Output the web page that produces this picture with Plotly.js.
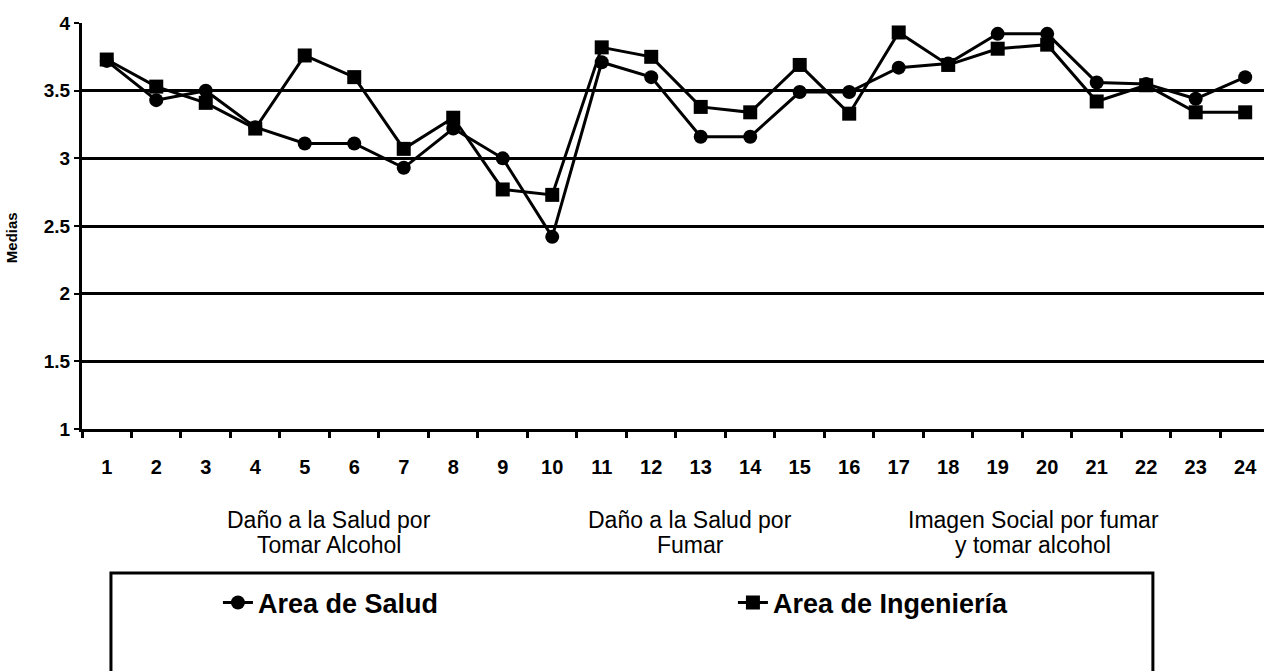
<!DOCTYPE html>
<html>
<head>
<meta charset="utf-8">
<script src="https://cdn.plot.ly/plotly-3.0.1.min.js"></script>
<style>
  html, body { margin: 0; padding: 0; background: #fff; }
  #chart { width: 1264px; height: 671px; }
</style>
</head>
<body>
<div id="chart"></div>
<script>
// items 1..24
const items = [1, 2, 3, 4, 5, 6, 7, 8, 9, 10, 11, 12, 13, 14, 15, 16, 17, 18, 19, 20, 21, 22, 23, 24];

// means
const salud = [3.72, 3.43, 3.50, 3.23, 3.11, 3.11, 2.93, 3.22, 3.00, 2.42, 3.71, 3.60,
               3.16, 3.16, 3.49, 3.49, 3.67, 3.70, 3.92, 3.92, 3.56, 3.55, 3.44, 3.60];
const ingenieria = [3.73, 3.53, 3.41, 3.22, 3.76, 3.60, 3.07, 3.30, 2.77, 2.73, 3.82, 3.75,
                    3.38, 3.34, 3.69, 3.33, 3.93, 3.69, 3.81, 3.84, 3.42, 3.54, 3.34, 3.34];

// group captions under the axis, one entry per line
const groupLines = [
  ['Daño a la Salud por', 'Tomar Alcohol'],
  ['Daño a la Salud por', 'Fumar'],
  ['Imagen Social por fumar', 'y tomar alcohol']
];
const groupCenters = [5.5, 12.79, 19.72];

const font = 'Liberation Sans, Arial, sans-serif';

const traces = [
  {
    x: items, y: salud, name: 'Area de Salud',
    mode: 'lines+markers', type: 'scatter', cliponaxis: false,
    line: {color: '#000', width: 3},
    marker: {symbol: 'circle', size: 14, color: '#000'}
  },
  {
    x: items, y: ingenieria, name: 'Area de Ingeniería',
    mode: 'lines+markers', type: 'scatter', cliponaxis: false,
    line: {color: '#000', width: 3},
    marker: {symbol: 'square', size: 14, color: '#000'}
  }
];

const annotations = [];
groupLines.forEach((lines, i) => {
  lines.forEach((t, j) => {
    annotations.push({
      text: t, xref: 'x', yref: 'paper', x: groupCenters[i], y: -0.224 - j * 0.0616,
      xanchor: 'center', yanchor: 'middle', showarrow: false,
      font: {family: font, size: 23, color: '#000'}
    });
  });
});
annotations.push({
  text: '<b>Medias</b>', xref: 'paper', yref: 'paper', x: 0, xshift: -71, y: 0.47,
  textangle: -90, showarrow: false, xanchor: 'center', yanchor: 'middle',
  font: {family: font, size: 15, color: '#000'}
});

const layout = {
  width: 1264, height: 671,
  margin: {l: 82, r: 0, t: 23, b: 242},
  paper_bgcolor: '#fff', plot_bgcolor: '#fff',
  showlegend: true,
  legend: {
    orientation: 'h', x: 0.115, xanchor: 'left', y: -0.4286, yanchor: 'middle',
    entrywidth: 470, bgcolor: 'rgba(0,0,0,0)',
    font: {family: font, size: 27, color: '#000', weight: 'bold'}
  },
  xaxis: {
    range: [0.5, 24.38], tickmode: 'array', tickvals: items,
    ticks: '', ticklabelstandoff: 18,
    showline: true, linecolor: '#000', linewidth: 3, showgrid: false, zeroline: false,
    tickfont: {family: font, size: 20, color: '#000', weight: 'bold'},
    minor: {tick0: 0.5, dtick: 1, ticks: 'outside', ticklen: 6, tickwidth: 3, tickcolor: '#000', showgrid: false}
  },
  yaxis: {
    range: [1, 4], tickvals: [1, 1.5, 2, 2.5, 3, 3.5, 4],
    ticktext: ['1', '1.5', '2', '2.5', '3', '3.5', '4'],
    ticks: 'outside', ticklen: 5, tickwidth: 2, tickcolor: '#000',
    showline: true, linecolor: '#000', linewidth: 3,
    showgrid: true, gridcolor: '#000', gridwidth: 3, zeroline: false,
    tickfont: {family: font, size: 19, color: '#000', weight: 'bold'}
  },
  shapes: [{
    type: 'rect', xref: 'paper', yref: 'paper',
    x0: 0.0245, x1: 0.906, y0: -0.3547, y1: -0.66,
    line: {color: '#000', width: 3}, fillcolor: 'rgba(0,0,0,0)'
  }],
  annotations: annotations
};

Plotly.newPlot('chart', traces, layout, {displayModeBar: false, staticPlot: true});
</script>
</body>
</html>
